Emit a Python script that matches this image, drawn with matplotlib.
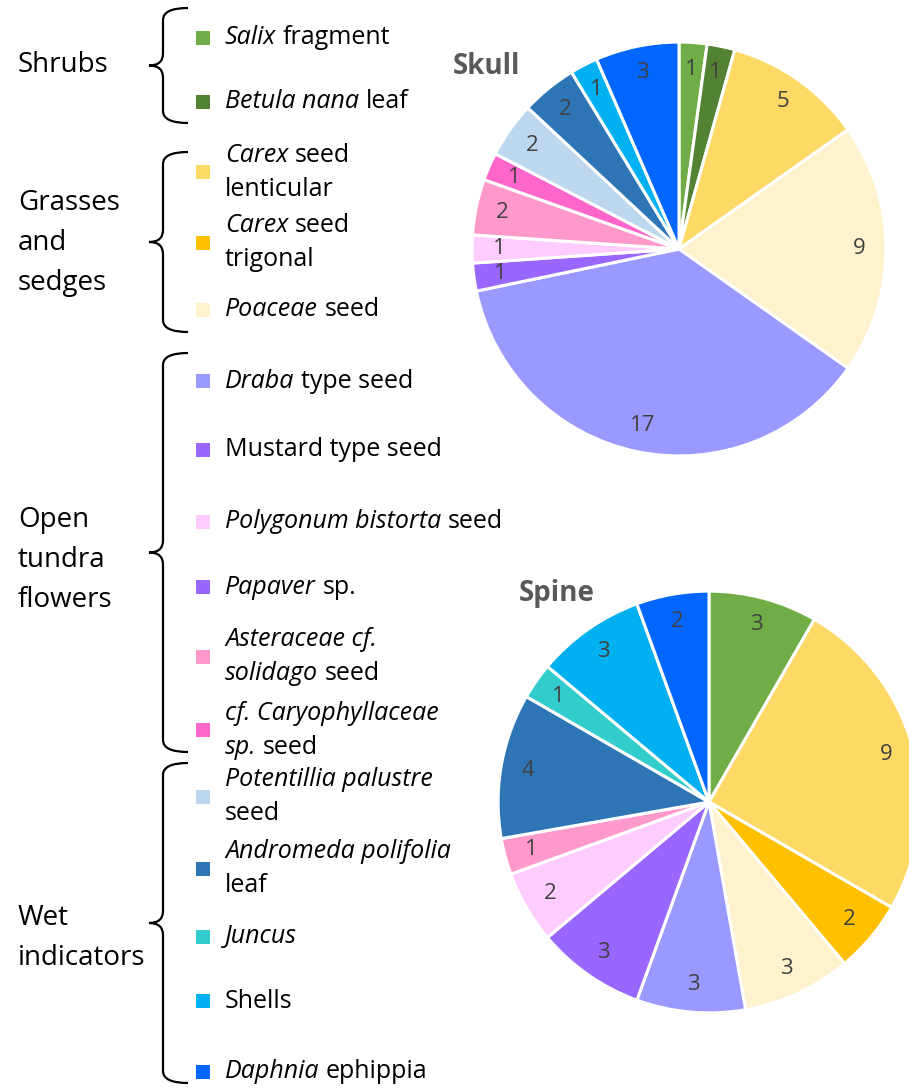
import matplotlib
matplotlib.use("Agg")
import matplotlib.pyplot as plt
from matplotlib.path import Path
from matplotlib.patches import PathPatch

# legend entries, "*...*" marks the italic part
species = [
    "*Salix* fragment",
    "*Betula nana* leaf",
    "*Carex* seed\nlenticular",
    "*Carex* seed\ntrigonal",
    "*Poaceae* seed",
    "*Draba* type seed",
    "Mustard type seed",
    "*Polygonum bistorta* seed",
    "*Papaver* sp.",
    "*Asteraceae cf.*\n*solidago* seed",
    "*cf. Caryophyllaceae*\n*sp.* seed",
    "*Potentillia palustre*\nseed",
    "*Andromeda polifolia*\nleaf",
    "*Juncus*",
    "Shells",
    "*Daphnia* ephippia",
]
colors = ["#70AD47", "#548235", "#FFD966", "#FFC000", "#FFF2CC",
          "#9999FF", "#9966FF", "#FFCCFF", "#9966FF", "#FF99CC",
          "#FF66CC", "#BDD7EE", "#2E75B6", "#33CCCC", "#00B0F0", "#0066FF"]
skull_counts = [1, 1, 5, 0, 9, 17, 1, 1, 0, 2, 1, 2, 2, 0, 1, 3]
spine_counts = [3, 0, 9, 2, 3, 3, 3, 2, 0, 1, 0, 0, 4, 1, 3, 2]

groups = ["Shrubs", "Grasses\nand\nsedges", "Open\ntundra\nflowers", "Wet\nindicators"]

# layout (pixels)
W, H = 909, 1089
marker_y = [38, 102, 172, 243, 310, 381, 450, 522, 587, 657, 730, 797, 869, 937, 1001, 1072]
brace_spans = [(8, 123), (152, 332), (353, 752), (763, 1083)]
group_y = [65, 243, 560, 938]

plt.rcParams["font.family"] = ["Open Sans", "DejaVu Sans"]

fig = plt.figure(figsize=(W / 100, H / 100), dpi=100)
ov = fig.add_axes([0, 0, 1, 1])
ov.set_xlim(0, W)
ov.set_ylim(H, 0)
ov.axis("off")


def draw_line(x, y, text, size):
    parts = text.split("*")
    prev = None
    for i, p in enumerate(parts):
        p = p.strip()
        if not p:
            continue
        style = "italic" if i % 2 else "normal"
        if prev is None:
            prev = ov.text(x, y, p, fontsize=size, style=style, va="center", ha="left")
        else:
            prev = ov.annotate(p, xy=(1, 0), xycoords=prev, xytext=(size * 0.26, 0),
                               textcoords="offset points", fontsize=size, style=style,
                               va="bottom", ha="left")


def draw_brace(y0, y1, xe=188, xs=163, xt=149, c=12):
    ym = (y0 + y1) / 2
    verts = [(xe, y0), (xs, y0), (xs, y0 + c),
             (xs, ym - c), (xs, ym), (xt, ym),
             (xs, ym), (xs, ym + c),
             (xs, y1 - c), (xs, y1), (xe, y1)]
    codes = [Path.MOVETO, Path.CURVE3, Path.CURVE3,
             Path.LINETO, Path.CURVE3, Path.CURVE3,
             Path.CURVE3, Path.CURVE3,
             Path.LINETO, Path.CURVE3, Path.CURVE3]
    ov.add_patch(PathPatch(Path(verts, codes), fill=False, lw=1.6, color="black"))


for g, (y0, y1), gy in zip(groups, brace_spans, group_y):
    draw_brace(y0, y1)
    ov.text(18, gy, g, fontsize=20, va="center", ha="left", linespacing=1.56)

for name, col, my in zip(species, colors, marker_y):
    ov.scatter([203], [my], marker="s", s=95, color=col, linewidths=0)
    lines = name.split("\n")
    n = len(lines)
    for k, ln in enumerate(lines):
        # carry italics over line breaks
        if ln.count("*") % 2 and k > 0:
            ln = "*" + ln
        draw_line(225, my + (k - (n - 1) / 2) * 34, ln, 18)


def draw_pie(cx, cy, r, counts, title, tx, ty):
    ax = fig.add_axes([(cx - r) / W, 1 - (cy + r) / H, 2 * r / W, 2 * r / H])
    vals = [v for v in counts if v > 0]
    cols = [c for v, c in zip(counts, colors) if v > 0]
    total = sum(vals)
    ax.pie(vals, colors=cols, startangle=90, counterclock=False, radius=1,
           wedgeprops=dict(edgecolor="white", linewidth=2.2),
           autopct=lambda p: "%d" % round(p * total / 100), pctdistance=0.87,
           textprops=dict(color="#404040", fontsize=16))
    ax.set_xlim(-1.01, 1.01)
    ax.set_ylim(-1.01, 1.01)
    ov.text(tx, ty, title, fontsize=20, fontweight="bold", color="#595959",
            va="center", ha="left")


draw_pie(679, 249, 209, skull_counts, "Skull", 453, 66)
draw_pie(709, 802, 213, spine_counts, "Spine", 519, 593)

fig.savefig("out.png", dpi=100)
